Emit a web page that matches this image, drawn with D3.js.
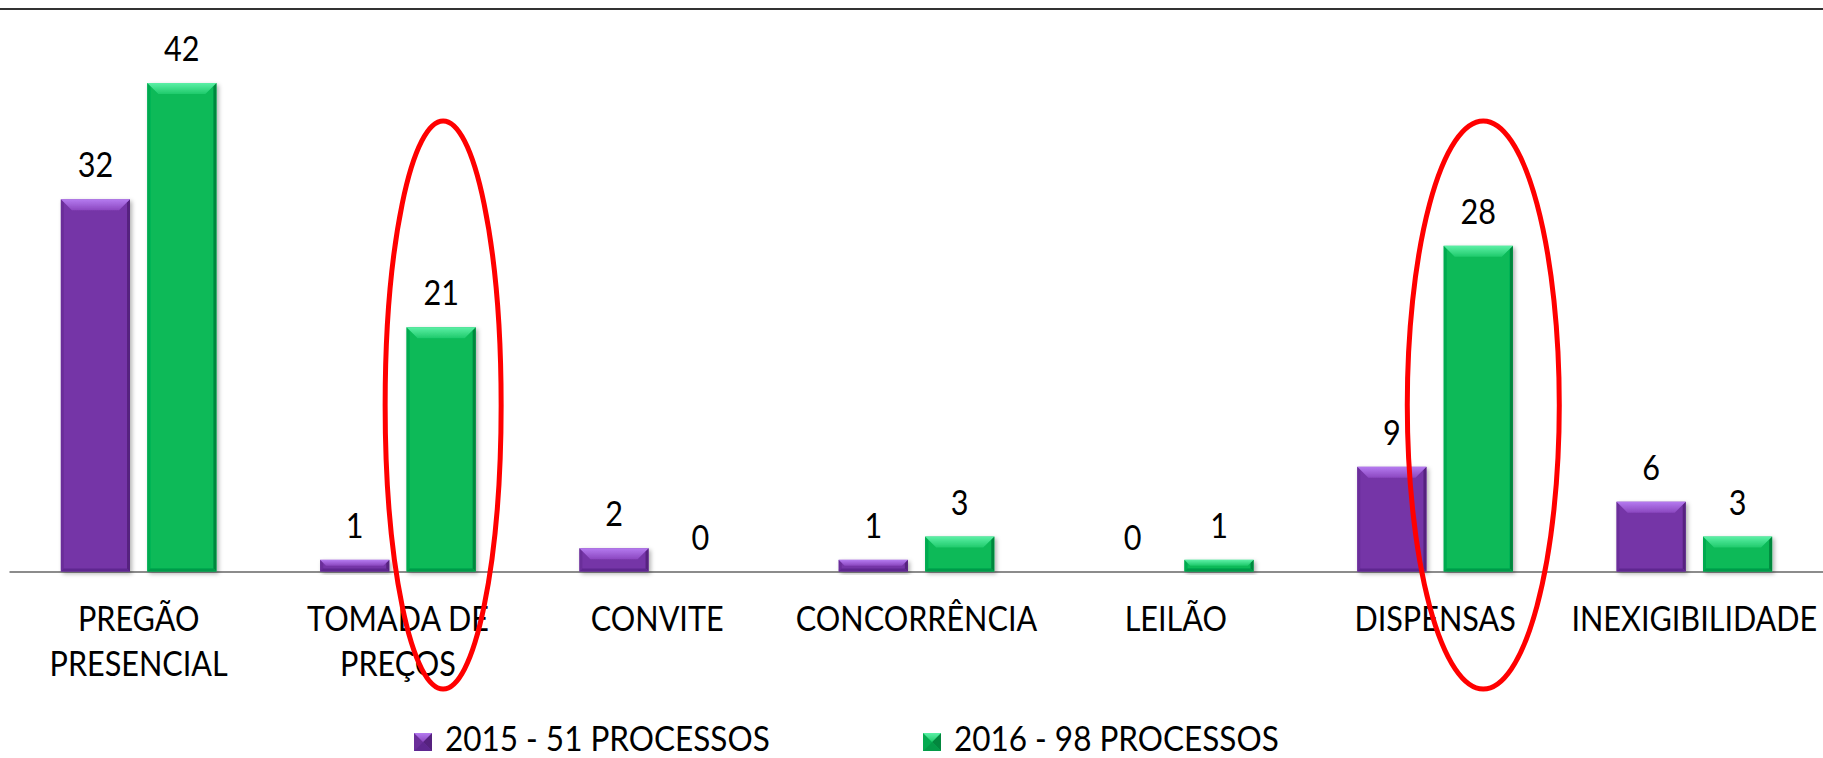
<!DOCTYPE html>
<html>
<head>
<meta charset="utf-8">
<script src="https://cdn.jsdelivr.net/npm/d3@7"></script>
<style>
    body { margin: 0; background: #fff; }
    text { font-family: Lato, "Open Sans", sans-serif; fill: #000; }
</style>
</head>
<body>
<div id="chart-area"></div>
<script>
// data
var categories = ["PREGÃO\nPRESENCIAL", "TOMADA DE\nPREÇOS", "CONVITE", "CONCORRÊNCIA", "LEILÃO", "DISPENSAS", "INEXIGIBILIDADE"];
var seriesNames = ["2015 - 51 PROCESSOS", "2016 - 98 PROCESSOS"];
var values2015 = [32, 1, 2, 1, 0, 9, 6];
var values2016 = [42, 21, 0, 3, 1, 28, 3];
var circled = ["TOMADA DE\nPREÇOS", "DISPENSAS"];

var W = 1823, H = 758;
var fontSize = 34, squeeze = 0.9;   // narrow the font a bit, closer to the original

var palette = [
    { face: "#7535a7", hi: "#b57bf0", hi2: "#8b47c0", left: "#6b2e9a", right: "#56227f", bottom: "#5f2790" },
    { face: "#07ba58", hi: "#5cf0a6", hi2: "#1fca6b", left: "#05aa50", right: "#03873e", bottom: "#049a48" }
];

var svg = d3.select("#chart-area")
    .append("svg")
        .attr("width", W)
        .attr("height", H);

var defs = svg.append("defs");
var shadow = defs.append("filter")
    .attr("id", "shadow")
    .attr("x", "-20%").attr("y", "-20%")
    .attr("width", "150%").attr("height", "150%");
shadow.append("feDropShadow")
    .attr("dx", 2).attr("dy", 2)
    .attr("stdDeviation", 2)
    .attr("flood-color", "#000")
    .attr("flood-opacity", 0.3);

palette.forEach(function(p, i){
    var lg = defs.append("linearGradient")
        .attr("id", "hi" + i)
        .attr("x1", 0).attr("y1", 0).attr("x2", 0).attr("y2", 1);
    lg.append("stop").attr("offset", "0%").attr("stop-color", p.hi);
    lg.append("stop").attr("offset", "100%").attr("stop-color", p.hi2);
});

// top rule
svg.append("line")
    .attr("x1", 0).attr("x2", W)
    .attr("y1", 9).attr("y2", 9)
    .attr("stroke", "#333")
    .attr("stroke-width", 2.2);

var baseY = 571.5;

var x0 = d3.scaleBand()
    .domain(categories)
    .range([9, 1824]);

var x1 = d3.scaleBand()
    .domain(seriesNames)
    .range([0, x0.bandwidth()])
    .paddingInner(0.2)
    .paddingOuter(0.6);

var y = d3.scaleLinear()
    .domain([0, 42])
    .range([baseY, 83]);

// beveled bar like the office chart style
function bevelBar(sel, x, yy, w, h, si, bt, bs){
    var p = palette[si];
    bt = Math.min(bt, h / 2, w / 2);
    bs = Math.min(bs, h / 2);
    var g = sel.append("g").attr("filter", "url(#shadow)");
    g.append("rect")
        .attr("x", x).attr("y", yy)
        .attr("width", w).attr("height", h)
        .attr("fill", p.face);
    g.append("polygon")
        .attr("points", [[x, yy], [x + bs, yy + bs], [x + bs, yy + h - bs], [x, yy + h]].join(" "))
        .attr("fill", p.left);
    g.append("polygon")
        .attr("points", [[x + w, yy], [x + w - bs, yy + bs], [x + w - bs, yy + h - bs], [x + w, yy + h]].join(" "))
        .attr("fill", p.right);
    g.append("polygon")
        .attr("points", [[x, yy + h], [x + bs, yy + h - bs], [x + w - bs, yy + h - bs], [x + w, yy + h]].join(" "))
        .attr("fill", p.bottom);
    g.append("polygon")
        .attr("points", [[x, yy], [x + w, yy], [x + w - bt, yy + bt], [x + bt, yy + bt]].join(" "))
        .attr("fill", "url(#hi" + si + ")");
    return g;
}

// x axis: baseline + category labels
var xAxis = svg.append("g")
    .attr("class", "x axis")
    .attr("transform", "translate(0," + baseY + ")")
    .call(d3.axisBottom(x0).tickSize(0).tickSizeOuter(0));

xAxis.select(".domain")
    .attr("stroke", "#8c8c8c")
    .attr("stroke-width", 2);

xAxis.selectAll(".tick text")
    .each(function(d){
        var t = d3.select(this);
        t.text(null)
            .attr("y", 0)
            .attr("dy", null)
            .attr("font-size", fontSize + "px")
            .attr("fill", "#000")
            .attr("font-family", "Lato, 'Open Sans', sans-serif")
            .attr("transform", "scale(" + squeeze + ",1)");
        d.split("\n").forEach(function(line, i){
            t.append("tspan")
                .attr("x", 0)
                .attr("y", 60 + i * 45)
                .text(line);
        });
    });

// bars
var seriesValues = [values2015, values2016];
var bars = svg.append("g").attr("class", "bars");

seriesValues.forEach(function(vals, si){
    vals.forEach(function(v, ci){
        var cat = categories[ci];
        var bx = x0(cat) + x1(seriesNames[si]);
        if (v > 0) {
            bevelBar(bars, bx, y(v), x1.bandwidth(), baseY - y(v), si, 11, 3);
        }
        bars.append("text")
            .attr("transform", "translate(" + (bx + x1.bandwidth() / 2) + "," + (y(v) - 22) + ") scale(" + squeeze + ",1)")
            .attr("text-anchor", "middle")
            .attr("font-size", fontSize + "px")
            .text(v);
    });
});

// legend
var legendX = [414, 923];
var legend = svg.append("g").attr("class", "legend");
seriesNames.forEach(function(name, si){
    bevelBar(legend, legendX[si], 733, 18, 18, si, 9, 9).attr("filter", null);
    legend.append("text")
        .attr("transform", "translate(" + (legendX[si] + 31) + ",751) scale(" + squeeze + ",1)")
        .attr("font-size", (fontSize + 1) + "px")
        .text(name);
});

// red annotation ellipses around 2016 bars
var ellipseRx = [58, 76];
var ellipseShift = [2, 5];
circled.forEach(function(cat, i){
    var cx = x0(cat) + x1(seriesNames[1]) + x1.bandwidth() / 2 + ellipseShift[i];
    svg.append("ellipse")
        .attr("cx", cx)
        .attr("cy", 405)
        .attr("rx", ellipseRx[i])
        .attr("ry", 284)
        .attr("fill", "none")
        .attr("stroke", "#ff0000")
        .attr("stroke-width", 5);
});
</script>
</body>
</html>
